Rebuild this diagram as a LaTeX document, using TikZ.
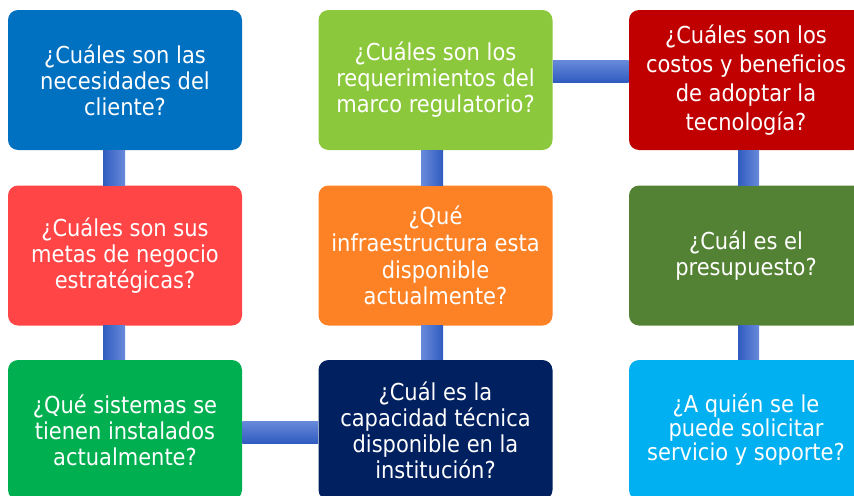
\documentclass[tikz,border=0pt]{standalone}
\usepackage{fontspec}
\setmainfont{DejaVu Sans Condensed}
\usetikzlibrary{calc}

\definecolor{cliBlue}{RGB}{0,112,192}
\definecolor{metaRed}{RGB}{255,69,69}
\definecolor{sisGreen}{RGB}{0,176,80}
\definecolor{regGreen}{RGB}{140,200,60}
\definecolor{infOrange}{RGB}{253,130,38}
\definecolor{capNavy}{RGB}{0,32,96}
\definecolor{cosRed}{RGB}{192,0,0}
\definecolor{preOlive}{RGB}{84,130,53}
\definecolor{sopBlue}{RGB}{0,176,240}
\definecolor{barDark}{RGB}{48,92,192}
\definecolor{barLight}{RGB}{104,138,218}

\tikzset{
  qbox/.style={rounded corners=7.5pt, minimum width=175.5pt, minimum height=105pt,
    inner sep=0pt, text=white, align=center, font=\fontsize{17.5}{19.5}\selectfont},
  barH/.style={top color=barLight, bottom color=barDark},
  barVL/.style={left color=barDark, right color=barLight},
  barVR/.style={left color=barLight, right color=barDark}
}

\begin{document}
\begin{tikzpicture}[x=0.75pt,y=0.75pt,yscale=-1,xscale=1]
\useasboundingbox (0,0) rectangle (854,496);
\clip (0,0) rectangle (854,496);

% Column 1
\node [qbox, fill=cliBlue] (necesidades) at (125,80) {¿Cuáles son las\\necesidades del\\cliente?};
\node [qbox, fill=metaRed] (metas) at (125,255.5) {¿Cuáles son sus\\metas de negocio\\estratégicas?};
\node [qbox, fill=sisGreen] (sistemas) at (125,430) {¿Qué sistemas se\\tienen instalados\\actualmente?};

% Column 2
\node [qbox, fill=regGreen] (marco) at (435.5,80) {¿Cuáles son los\\requerimientos del\\marco regulatorio?};
\node [qbox, fill=infOrange, font=\fontsize{17.5}{20}\selectfont] (infra) at (435.5,255.5) {¿Qué\\infraestructura esta\\disponible\\actualmente?};
\node [qbox, fill=capNavy] (capacidad) at (435.5,430) {¿Cuál es la\\capacidad técnica\\disponible en la\\institución?};

% Column 3
\node [qbox, fill=cosRed, font=\fontsize{17.5}{21.75}\selectfont] (costos) at (746,80) {¿Cuáles son los\\costos y beneficios\\de adoptar la\\tecnología?};
\node [qbox, fill=preOlive] (presupuesto) at (746,255.5) {¿Cuál es el\\presupuesto?};
\node [qbox, fill=sopBlue, font=\fontsize{17.5}{18}\selectfont] (soporte) at (746,430) {¿A quién se le\\puede solicitar\\servicio y soporte?};

% Connectors
\shade [barVL] ($(necesidades.south)+(-22,0)$) rectangle ($(metas.north)+(0,0)$);
\shade [barVL] ($(metas.south)+(-22,0)$) rectangle ($(sistemas.north)+(0,0)$);
\shade [barH] ($(sistemas.east)+(0,-9)$) rectangle ($(capacidad.west)+(0,13)$);
\shade [barVR] ($(capacidad.north)+(-14.5,0)$) rectangle ($(infra.south)+(7.5,0)$);
\shade [barVR] ($(infra.north)+(-14.5,0)$) rectangle ($(marco.south)+(7.5,0)$);
\shade [barH] ($(marco.east)+(0,-20)$) rectangle ($(costos.west)+(0,2)$);
\shade [barVL] ($(costos.south)+(-8,0)$) rectangle ($(presupuesto.north)+(13,0)$);
\shade [barVL] ($(presupuesto.south)+(-8,0)$) rectangle ($(soporte.north)+(13,0)$);

\end{tikzpicture}
\end{document}
